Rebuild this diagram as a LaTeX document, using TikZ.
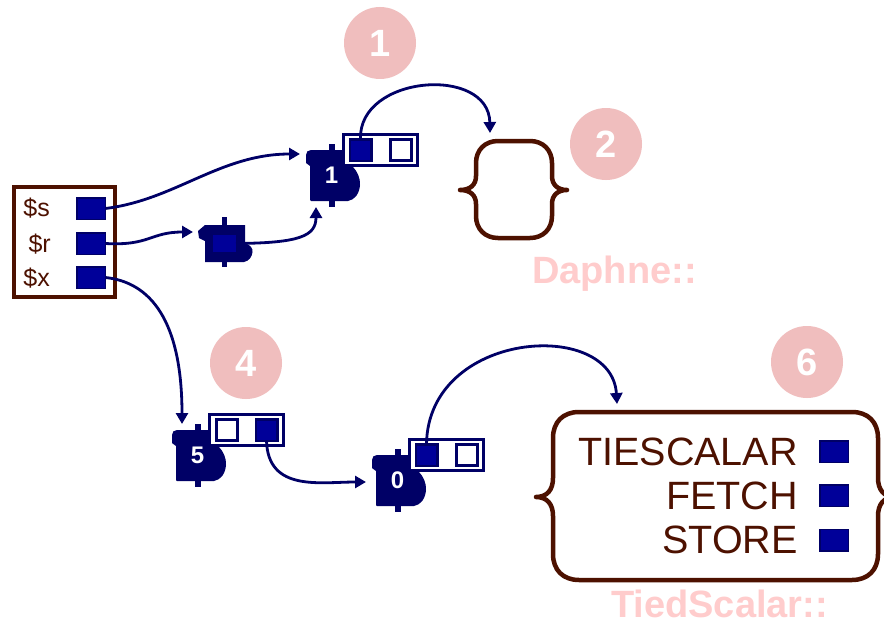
\documentclass[tikz,border=0pt]{standalone}
\usepackage{fontspec}
\setmainfont{Liberation Sans}
\usetikzlibrary{arrows.meta}

\definecolor{svnavy}{RGB}{0,0,102}
\definecolor{fieldblue}{RGB}{0,0,153}
\definecolor{brownline}{RGB}{77,17,0}
\definecolor{badge}{RGB}{240,190,190}
\definecolor{pkgpink}{RGB}{255,204,204}

\tikzset{
  link/.style={draw=svnavy, line width=2.8pt, -{Triangle[length=11pt,width=12pt]}},
  padfield/.style={draw=svnavy, fill=fieldblue, line width=1.5pt, minimum width=28.5pt,
    minimum height=21.5pt, inner sep=0pt, outer sep=0pt},
  fullfield/.style={draw=svnavy, fill=fieldblue, line width=2.5pt, minimum size=21.5pt,
    inner sep=0pt, outer sep=0pt},
  emptyfield/.style={draw=svnavy, fill=white, line width=3pt, minimum size=21pt,
    inner sep=0pt, outer sep=0pt},
  bodybox/.style={draw=svnavy, fill=white, line width=3pt, minimum width=74pt,
    minimum height=31pt, inner sep=0pt, outer sep=0pt},
  badgecircle/.style={circle, fill=badge, minimum size=72pt, inner sep=0pt, text=white,
    font=\fontsize{38}{38}\selectfont\bfseries},
  refcnt/.style={text=white, font=\fontsize{24}{24}\selectfont\bfseries, inner sep=0pt},
  brace/.style={draw=brownline, line width=4.5pt, line join=round, fill=white},
  padlabel/.style={text=brownline, font=\fontsize{25}{25}\selectfont, inner sep=0pt},
  methodlabel/.style={text=brownline, font=\fontsize{39.5}{39.5}\selectfont, inner sep=0pt},
  pkglabel/.style={text=pkgpink, font=\fontsize{38}{38}\selectfont\bfseries, inner sep=0pt},
}

% SV head with its body box: #1 name, #2,#3 peg centre / head top,
% #4 reference count, #5 and #6 styles of the two body fields
\newcommand{\drawsv}[6]{%
  \begin{scope}[shift={(#2,#3)}]
    \fill[svnavy] (-3,-6) rectangle (3,57);
    \fill[svnavy] (-21,0) -- (20,0) -- (21,17)
      .. controls (25,21) and (28.5,28) .. (28,35)
      .. controls (27.5,43) and (23,50) .. (16,51) -- (-21,51) -- (-22,50) -- (-22,16)
      -- (-26,13) -- (-26,5) .. controls (-26,2) and (-24,0) .. (-21,0) -- cycle;
    \node[bodybox] (#1) at (48.5,0) {};
    \node[#5] (#1-l) at (28.5,0) {};
    \node[#6] (#1-r) at (68.5,0) {};
    \node[refcnt] (#1-n) at (-0.5,25) {#4};
  \end{scope}}

\begin{document}
\begin{tikzpicture}[x=1pt, y=-1pt]
  \fill[white] (0,0) rectangle (884,626);
  \useasboundingbox (0,0) rectangle (884,626);

  % pad with the three lexicals
  \node[draw=brownline, line width=4pt, fill=white, minimum width=101pt, minimum height=110pt,
        inner sep=0pt, outer sep=0pt] (pad) at (64.5,242) {};
  \node[padlabel, anchor=base east] (ls) at (50,216) {\$s};
  \node[padlabel, anchor=base east] (lr) at (51,252) {\$r};
  \node[padlabel, anchor=base east] (lx) at (50,286) {\$x};
  \node[padfield] (ps) at (91,208.5) {};
  \node[padfield] (pr) at (91,243.5) {};
  \node[padfield] (px) at (91,277.5) {};

  % reference SV
  \fill[svnavy] (222,217) rectangle (227,267);
  \fill[svnavy] (205,225) -- (245,225) -- (245,243)
    .. controls (250,245) and (253,248) .. (252.5,252)
    .. controls (252,257) and (249,261) .. (244,262) -- (205,262) -- (205,241)
    -- (199,238) -- (198,231) -- cycle;
  \node[fill=fieldblue, minimum width=23pt, minimum height=17pt, inner sep=0pt,
        outer sep=0pt] (rv) at (224.5,243.5) {};

  % SV heads with bodies
  \drawsv{b1}{332}{150}{1}{fullfield}{emptyfield}
  \drawsv{b5}{198}{430}{5}{emptyfield}{fullfield}
  \drawsv{b0}{398}{455}{0}{fullfield}{emptyfield}

  % stashes
  \draw[brace] (460,190) .. controls (470,190) and (476,185) .. (476,176) -- (476,163)
    .. controls (476,150) and (485,141) .. (498,141) -- (530,141)
    .. controls (543,141) and (552,150) .. (552,163) -- (552,176)
    .. controls (552,185) and (558,190) .. (567,190)
    .. controls (558,190) and (552,195) .. (552,204) -- (552,216)
    .. controls (552,229) and (543,238) .. (530,238) -- (498,238)
    .. controls (485,238) and (476,229) .. (476,216) -- (476,204)
    .. controls (476,195) and (470,190) .. (460,190) -- cycle;
  \coordinate (daphne) at (490,133);

  \draw[brace] (536,497) .. controls (547,497) and (553,490) .. (553,478) -- (553,438)
    .. controls (553,422) and (563,412) .. (579,412) -- (852,412)
    .. controls (868,412) and (878,422) .. (878,438) -- (878,478)
    .. controls (878,490) and (884,497) .. (895,497)
    .. controls (884,497) and (878,504) .. (878,516) -- (878,554)
    .. controls (878,570) and (868,580) .. (852,580) -- (579,580)
    .. controls (563,580) and (553,570) .. (553,554) -- (553,516)
    .. controls (553,504) and (547,497) .. (536,497) -- cycle;
  \coordinate (tied) at (617,404);

  \node[methodlabel, anchor=base east] (mts) at (798,465) {TIESCALAR};
  \node[methodlabel, anchor=base east] (mfe) at (798,509) {FETCH};
  \node[methodlabel, anchor=base east] (mst) at (798,553) {STORE};
  \node[padfield] (fts) at (834,451.5) {};
  \node[padfield] (ffe) at (834,495.5) {};
  \node[padfield] (fst) at (834,540) {};

  \node[pkglabel, anchor=base west] (pd) at (532,283) {Daphne::};
  \node[pkglabel, anchor=base west] (pt) at (611,617) {TiedScalar::};

  % badges
  \node[badgecircle] (c1) at (380,43) {1};
  \node[badgecircle] (c2) at (606,144) {2};
  \node[badgecircle] (c4) at (246,363) {4};
  \node[badgecircle] (c6) at (807,362) {6};

  % arrow targets
  \coordinate (b1w) at (300,154);
  \coordinate (b1s) at (316,207);
  \coordinate (rvw) at (193,232);
  \coordinate (b5t) at (182,424);
  \coordinate (b0w) at (366,482);

  % connectors
  \draw[link] (ps.east) .. controls (175,200) and (220,154) .. (b1w);
  \draw[link] (pr.east) .. controls (150,246) and (150,232) .. (rvw);
  \draw[link] (rv.east) .. controls (300,243) and (316,236) .. (b1s);
  \draw[link] (px.east) .. controls (150,282) and (182,320) .. (b5t);
  \draw[link] (b5-r.south) .. controls (268,492) and (320,482) .. (b0w);
  \draw[link] (b1-l.north) .. controls (358,75) and (489,65) .. (daphne);
  \draw[link] (b0-l.north) .. controls (428,330) and (612,318) .. (tied);
\end{tikzpicture}
\end{document}
